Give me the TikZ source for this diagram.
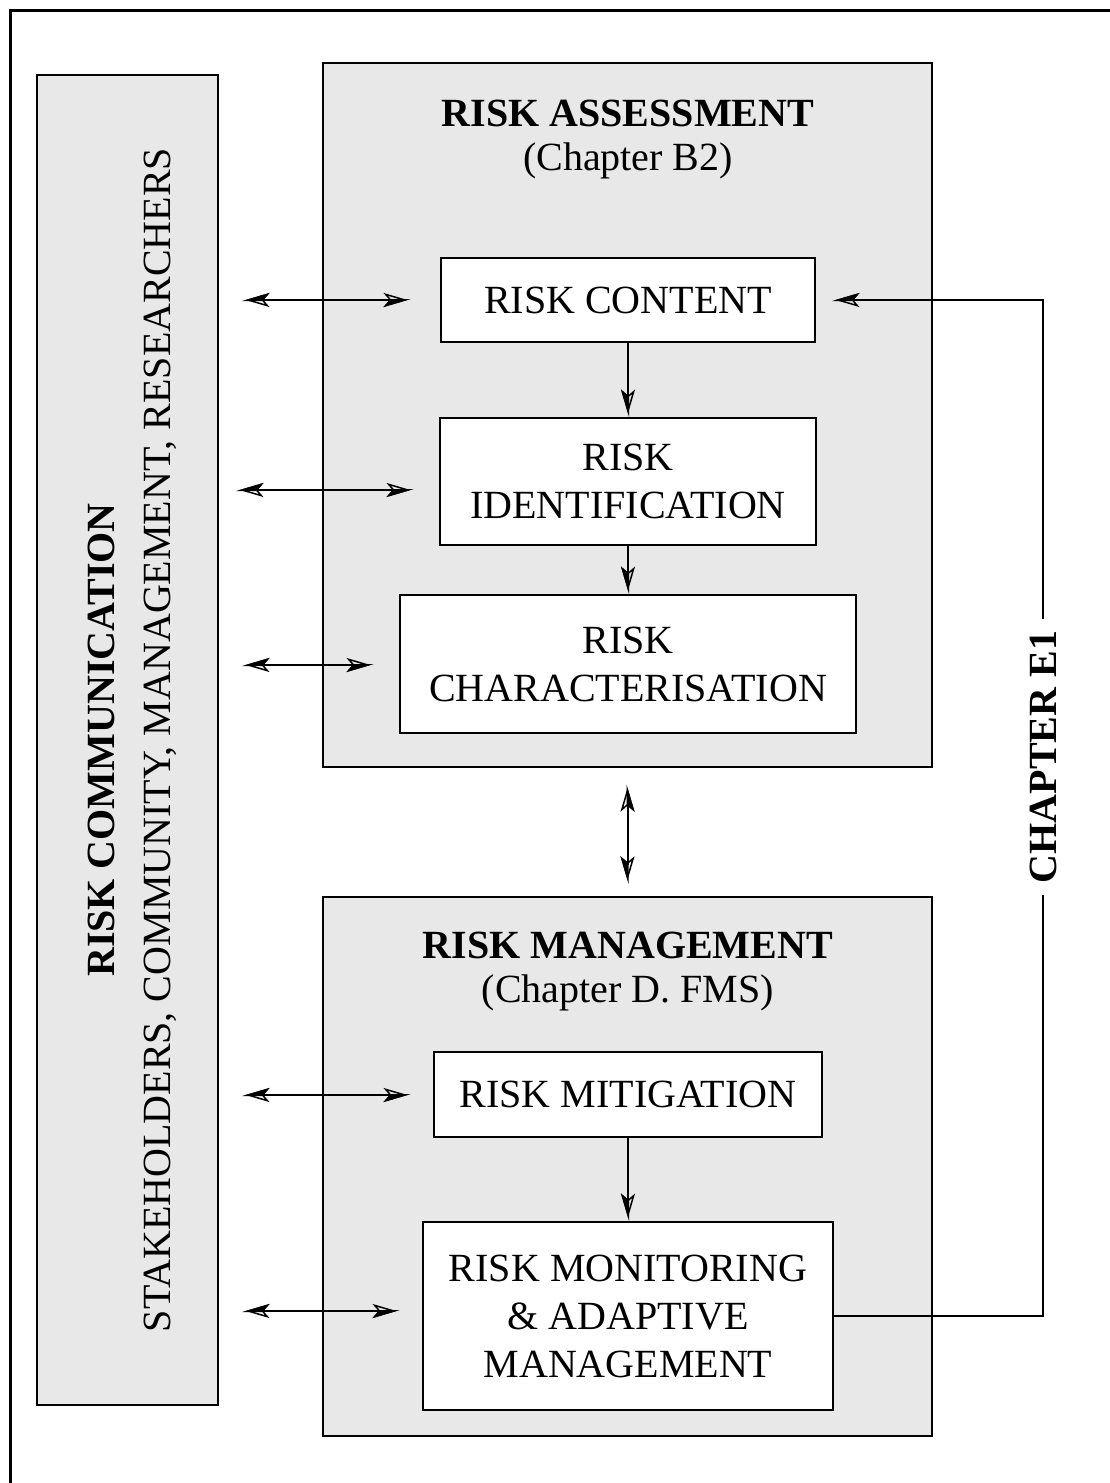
\documentclass[tikz,border=0pt]{standalone}
\usepackage{fontspec}
\setmainfont{Liberation Serif}
\usetikzlibrary{arrows.meta}
\definecolor{panelgray}{RGB}{232,232,232}
\tikzset{
  halftip/.tip={Stealth[open,length=24pt,width=14pt,inset=6pt,line width=1.5pt,sep=-24pt]Stealth[harpoon,swap,length=24pt,width=14pt,inset=6pt]},
  panel/.style={draw=black, line width=2.5pt, fill=panelgray, inner sep=0pt},
  stepbox/.style={draw=black, line width=2pt, fill=white, inner sep=0pt, align=center, font=\fontsize{40}{48}\selectfont},
  txt/.style={inner sep=0pt, align=center, font=\fontsize{40}{48}\selectfont},
  btxt/.style={inner sep=0pt, align=center, font=\fontsize{40}{48}\selectfont\bfseries},
  conn/.style={line width=2pt},
  uni/.style={conn, -{halftip}},
  bi/.style={conn, {halftip}-{halftip}}
}
\begin{document}
\begin{tikzpicture}[x=1pt,y=-1pt]
\useasboundingbox (0,0) rectangle (1110,1483);
% outer frame (only top and left visible)
\draw[line width=3pt] (10,1600) -- (10,10) -- (1200,10);

% panels
\node[panel, minimum width=181pt, minimum height=1330pt] (comm) at (127.5,740) {};
\node[panel, minimum width=609pt, minimum height=704pt] (ra) at (627.5,415) {};
\node[panel, minimum width=609pt, minimum height=539pt] (rm) at (627.5,1166.5) {};

% communication texts
\node[btxt, rotate=90] (commtitle) at (101,740) {RISK COMMUNICATION};
\node[txt, rotate=90] (commsub) at (160,740) {STAKEHOLDERS, COMMUNITY, MANAGEMENT, RESEARCHERS};

% panel titles
\node[btxt] (ratitle) at (628,113) {RISK ASSESSMENT};
\node[txt] (rasub) at (628,161) {(Chapter B2)};
\node[btxt] (rmtitle) at (628,945) {RISK MANAGEMENT};
\node[txt] (rmsub) at (628,993) {(Chapter D. FMS)};

% step boxes
\node[stepbox, minimum width=374pt, minimum height=84pt] (rc) at (628,300) {RISK CONTENT};
\node[stepbox, minimum width=376pt, minimum height=127pt] (ri) at (628,481.5) {RISK\\IDENTIFICATION};
\node[stepbox, minimum width=456pt, minimum height=138pt] (rch) at (628,664) {RISK\\CHARACTERISATION};
\node[stepbox, minimum width=388pt, minimum height=85pt] (rmit) at (628,1094.5) {RISK MITIGATION};
\node[stepbox, minimum width=410pt, minimum height=188pt] (rmon) at (628,1316) {RISK MONITORING\\\&\ ADAPTIVE\\MANAGEMENT};

% vertical arrows
\draw[uni] (rc.south) -- (ri.north);
\draw[uni] (ri.south) -- (rch.north);
\draw[uni] (rmit.south) -- (rmon.north);
\draw[bi, shorten <=16pt, shorten >=12pt] (ra.south) -- (rm.north);

% left arrows
\coordinate (l1) at (242,300);
\coordinate (l2) at (236,490);
\coordinate (l3) at (242,665);
\coordinate (l4) at (242,1095);
\coordinate (l5) at (242,1311);
\draw[bi, shorten >=29pt] (l1) -- (l1 -| rc.west);
\draw[bi, shorten >=25pt] (l2) -- (l2 -| ri.west);
\draw[bi, shorten >=25pt] (l3) -- (l3 -| rch.west);
\draw[bi, shorten >=22pt] (l4) -- (l4 -| rmit.west);
\draw[bi, shorten >=22pt] (l5) -- (l5 -| rmon.west);

% feedback loop
\coordinate (r1) at (1043,1316);
\coordinate (r2) at (1043,300);
\draw[uni, shorten >=16pt] (rmon.east) -- (r1) -- (r2) -- (rc.east);
\node[btxt, rotate=90, fill=white, inner sep=12pt] (ch) at (1043,757) {CHAPTER E1};
\end{tikzpicture}
\end{document}
